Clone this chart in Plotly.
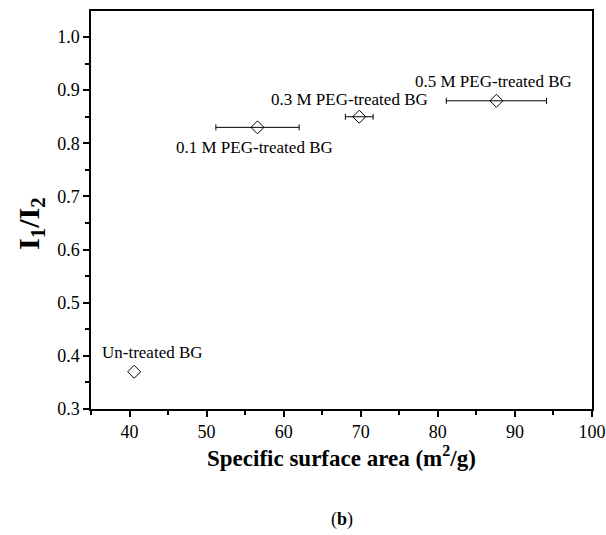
import plotly.graph_objects as go

labels = ["Un-treated BG", "0.1 M PEG-treated BG", "0.3 M PEG-treated BG", "0.5 M PEG-treated BG"]
surface_area = [40.6, 56.6, 69.8, 87.6]
area_err = [0, 5.4, 1.8, 6.5]
ratio = [0.37, 0.83, 0.85, 0.88]

x_ticks = [40, 50, 60, 70, 80, 90, 100]
y_ticks = [0.3, 0.4, 0.5, 0.6, 0.7, 0.8, 0.9, 1.0]

x_title = "<b>Specific surface area (m<sup>2</sup>/g)</b>"
y_title = "<b>I<sub>1</sub>/I<sub>2</sub></b>"
caption = "(<b>b</b>)"

FONT = "Liberation Serif"

fig = go.Figure()
marker = dict(symbol="diamond-open", size=10, color="black", line=dict(width=1))
# untreated sample (no error bar)
fig.add_trace(go.Scatter(
    x=surface_area[:1], y=ratio[:1], mode="markers", marker=marker, showlegend=False,
))
# PEG-treated samples with horizontal error bars
fig.add_trace(go.Scatter(
    x=surface_area[1:], y=ratio[1:], mode="markers", marker=marker,
    error_x=dict(type="data", array=area_err[1:], visible=True, color="black",
                 thickness=1, width=3),
    showlegend=False,
))

label_pos = [
    dict(xanchor="center", yanchor="bottom", xshift=18, yshift=8),
    dict(xanchor="center", yanchor="top", xshift=-3, yshift=-9),
    dict(xanchor="center", yanchor="bottom", xshift=-10, yshift=6),
    dict(xanchor="center", yanchor="bottom", xshift=-3, yshift=8),
]
for lab, xv, yv, p in zip(labels, surface_area, ratio, label_pos):
    fig.add_annotation(x=xv, y=yv, xref="x", yref="y", text=lab, showarrow=False,
                       font=dict(family=FONT, size=17, color="black"), **p)

# axis titles and caption
fig.add_annotation(x=0.5, y=0, xref="paper", yref="paper", text=x_title, showarrow=False,
                   xanchor="center", yanchor="middle", yshift=-47,
                   font=dict(family=FONT, size=23, color="black"))
fig.add_annotation(x=0, y=0.5, xref="paper", yref="paper", text=y_title, showarrow=False,
                   textangle=-90, xanchor="center", yanchor="middle", xshift=-60, yshift=-14,
                   font=dict(family=FONT, size=30, color="black"))
fig.add_annotation(x=0.5, y=0, xref="paper", yref="paper", text=caption, showarrow=False,
                   xanchor="center", yanchor="middle", yshift=-110,
                   font=dict(family=FONT, size=18, color="black"))

axis_common = dict(showgrid=False, zeroline=False, showline=True, linecolor="black",
                   linewidth=1.5, ticks="outside", ticklen=6, tickwidth=1.5,
                   tickcolor="black", automargin=False,
                   tickfont=dict(family=FONT, size=18, color="black"))

fig.update_xaxes(range=[35, 100], tickvals=x_ticks, mirror=True,
                 minor=dict(dtick=5, tick0=0, ticks="outside", ticklen=4, tickwidth=1.5, tickcolor="black"),
                 **axis_common)
fig.update_yaxes(range=[0.3, 1.049], tickvals=y_ticks, tickformat=".1f", mirror=True,
                 minor=dict(dtick=0.05, tick0=0, ticks="outside", ticklen=4, tickwidth=1.5, tickcolor="black"),
                 **axis_common)

fig.update_layout(
    width=606, height=535,
    margin=dict(l=91, r=14, t=11, b=126),
    plot_bgcolor="white", paper_bgcolor="white",
)

# remove the default 8px page margin so the figure fills the window exactly
fig.write_html("out.html", config={"displayModeBar": False},
               post_script="document.body.style.margin='0';document.body.style.overflow='hidden';")
